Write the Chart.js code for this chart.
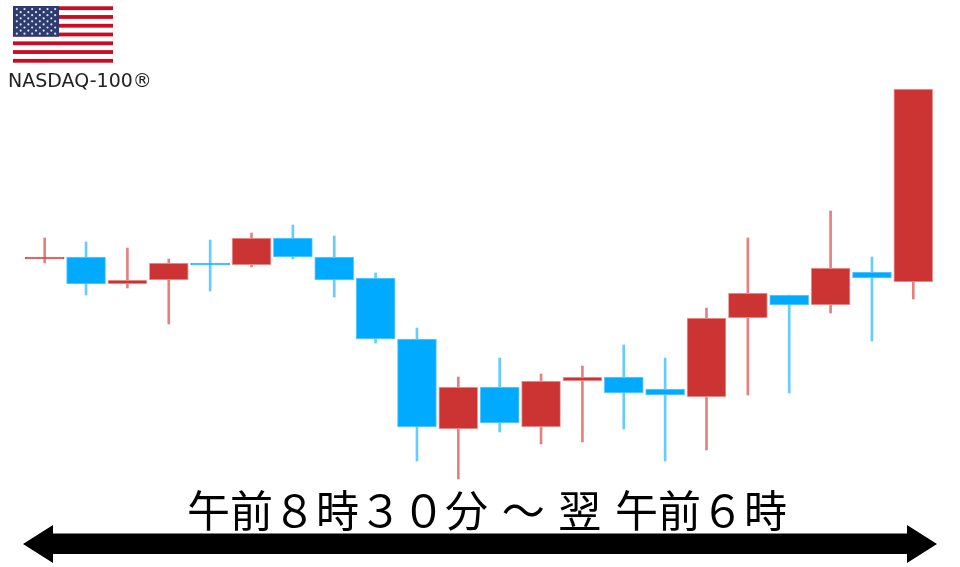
<!DOCTYPE html>
<html lang="ja">
<head>
<meta charset="utf-8">
<style>html,body{margin:0;padding:0;background:#fff}canvas{display:block}</style>
<script src="https://cdn.jsdelivr.net/npm/chart.js@4"></script>
</head>
<body>
<canvas id="c" width="960" height="567"></canvas>
<script>
const categories = ["8:30","9:00","10:00","11:00","12:00","13:00","14:00","15:00","16:00","17:00","18:00","19:00","20:00","21:00","22:00","23:00","0:00","1:00","2:00","3:00","4:00","5:00"];
const opens  = [308,310,283,287,304,302,329,310,289,228,138,180,140,186,190,178,170,249,272,262,295,285];
const closes = [310,283,287,304,302,329,310,287,228,140,180,144,186,190,174,172,249,274,262,299,289,478];
const highs  = [329,325,319,308,327,334,342,331,294,239,190,209,193,201,222,209,259,329,272,356,310,477];
const lows   = [304,272,279,243,276,300,308,270,224,106, 88,135,123,125,138,106,117,172,174,254,226,268];
const indexLabel = "NASDAQ-100®";
const periodLabel = "午前８時３０分 ～ 翌 午前６時";

const RED = "#cc3333", BLUE = "#00aaff", RED_WICK = "#e58080", BLUE_WICK = "#66ccff", RED_EDGE = "#eda5a5", BLUE_EDGE = "#66ccff", RED_THIN = "#d65050", BLUE_THIN = "#2bb8ff";
const rising = opens.map((o, i) => closes[i] >= o);
const thin = opens.map((o, i) => Math.abs(closes[i] - o) < 4);

function drawFlag(ctx) {
  const x = 13, y = 6, w = 100, h = 57, cw = 46, ch = 30.7, s = h / 13;
  ctx.fillStyle = "#fff"; ctx.fillRect(x, y, w, h);
  ctx.fillStyle = "#cc0a22";
  for (let i = 0; i < 13; i += 2) ctx.fillRect(x, y + i * s + 0.3, w, s - 0.6);
  ctx.fillStyle = "#2d3b6e"; ctx.fillRect(x, y, cw, ch);
  ctx.fillStyle = "#dfe3ee";
  for (let r = 0; r < 9; r++) {
    const n = r % 2 ? 5 : 6;
    for (let k = 0; k < n; k++) {
      const sx = x + cw * ((r % 2 ? 2 : 1) + 2 * k) / 12, sy = y + ch * (r + 1) / 10;
      ctx.beginPath(); ctx.arc(sx, sy, 1.1, 0, Math.PI * 2); ctx.fill();
    }
  }
}
function drawArrow(ctx) {
  ctx.fillStyle = "#000";
  ctx.beginPath();
  [[23,544],[53,525],[53,533.5],[907,533.5],[907,525],[937,544],[907,563],[907,554],[53,554],[53,563]].forEach((p, i) => i ? ctx.lineTo(p[0], p[1]) : ctx.moveTo(p[0], p[1]));
  ctx.closePath(); ctx.fill();
}
const decorations = {
  id: "decorations",
  afterDraw(chart) {
    const ctx = chart.ctx;
    ctx.save();
    drawFlag(ctx);
    ctx.fillStyle = "#222";
    ctx.textAlign = "left"; ctx.textBaseline = "alphabetic";
    ctx.font = '19px "DejaVu Sans"';
    ctx.fillText(indexLabel, 8, 87);
    ctx.fillStyle = "#000";
    ctx.font = '43px "Noto Sans CJK JP"';
    ctx.wordSpacing = "4px";
    ctx.fillText(periodLabel, 187, 527);
    ctx.wordSpacing = "0px";
    drawArrow(ctx);
    ctx.restore();
  }
};

new Chart(document.getElementById("c"), {
  type: "bar",
  data: {
    labels: categories,
    datasets: [
      {
        label: "Body",
        order: 1,
        data: opens.map((o, i) => [o, closes[i]]),
        backgroundColor: rising.map(r => r ? RED : BLUE),
        borderColor: rising.map((r, i) => thin[i] ? (r ? RED_THIN : BLUE_THIN) : (r ? RED_EDGE : BLUE_EDGE)),
        borderWidth: 1,
        borderSkipped: false,
        barThickness: 39,
        grouped: false
      },
      {
        label: "Range",
        order: 2,
        data: lows.map((l, i) => [l, highs[i]]),
        backgroundColor: rising.map(r => r ? RED_WICK : BLUE_WICK),
        borderWidth: 0,
        barThickness: 2,
        grouped: false
      }
    ]
  },
  options: {
    responsive: false,
    animation: false,
    layout: { padding: { left: 24, right: 26, top: 0, bottom: 0 } },
    plugins: { legend: { display: false }, title: { display: false }, tooltip: { enabled: false } },
    scales: {
      x: { display: false, offset: true },
      y: { display: false, min: 0, max: 567 }
    }
  },
  plugins: [decorations]
});
</script>
</body>
</html>
